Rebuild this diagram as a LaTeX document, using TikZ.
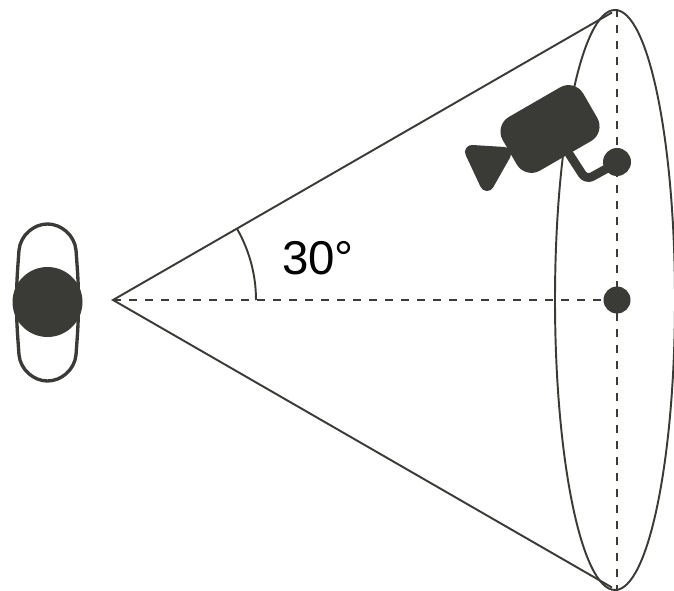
\documentclass[tikz,border=0pt]{standalone}
\usepackage{fontspec}
\setmainfont{Liberation Sans}
\definecolor{darkgrey}{HTML}{3A3B36}
\tikzset{
  thinline/.style={draw=darkgrey,line width=1.1pt},
  dashline/.style={draw=darkgrey,line width=1.1pt,dash pattern=on 4.6pt off 4.5pt},
  dot/.style={circle,fill=darkgrey,inner sep=0pt,minimum size=#1}
}
\begin{document}
\begin{tikzpicture}
\useasboundingbox (0,0) rectangle (13.48,11.8);
\coordinate (eye) at (2.26,5.8);
\coordinate (top) at (12.24,11.55);
\coordinate (bottom) at (12.24,0.05);
\coordinate (arcend) at (5.12,5.8);
\coordinate (rimtop) at (12.34,11.62);
\coordinate (rimbottom) at (12.34,-0.02);
\node[dot=0.54cm] (target) at (12.34,5.8) {};
\node[dot=0.56cm] (shifted) at (12.34,8.56) {};
% viewing cone
\draw[thinline] (bottom) -- (eye) -- (top);
\draw[thinline] (12.3,5.8) ellipse [x radius=1.2cm, y radius=5.8cm];
\draw[dashline] (eye) -- (target);
\draw[dashline] (rimtop) -- (rimbottom);
\draw[thinline] (arcend) arc [start angle=0, end angle=30, radius=2.86cm];
\node[font=\fontsize{27pt}{30pt}\selectfont] (angle) at (6.36,6.64) {30°};
% head
\draw[darkgrey,line width=1.9pt] (0.33,5.76)
.. controls (0.33,6.2) and (0.36,6.5) .. (0.38,6.8)
.. controls (0.41,7.1) and (0.68,7.32) .. (0.95,7.32)
.. controls (1.22,7.32) and (1.49,7.1) .. (1.52,6.8)
.. controls (1.54,6.5) and (1.57,6.2) .. (1.57,5.76)
.. controls (1.57,5.3) and (1.54,5) .. (1.52,4.7)
.. controls (1.49,4.4) and (1.22,4.18) .. (0.95,4.18)
.. controls (0.68,4.18) and (0.41,4.4) .. (0.38,4.7)
.. controls (0.36,5) and (0.33,5.3) .. cycle;
\node[dot=1.4cm] (head) at (0.95,5.76) {};
% camera
\draw[darkgrey,line width=5pt,rounded corners=0.14cm] (11.3,8.85) -- (11.72,8.2) -- (12.3,8.52);
\node[fill=darkgrey,rounded corners=0.34cm,rotate=30,minimum width=1.86cm,minimum height=1.24cm] (body) at (11,9.22) {};
\fill[darkgrey,draw=darkgrey,line width=8pt,line join=round] (9.44,8.76) -- (10.08,8.72) -- (9.74,8.12) -- cycle;
\end{tikzpicture}
\end{document}
